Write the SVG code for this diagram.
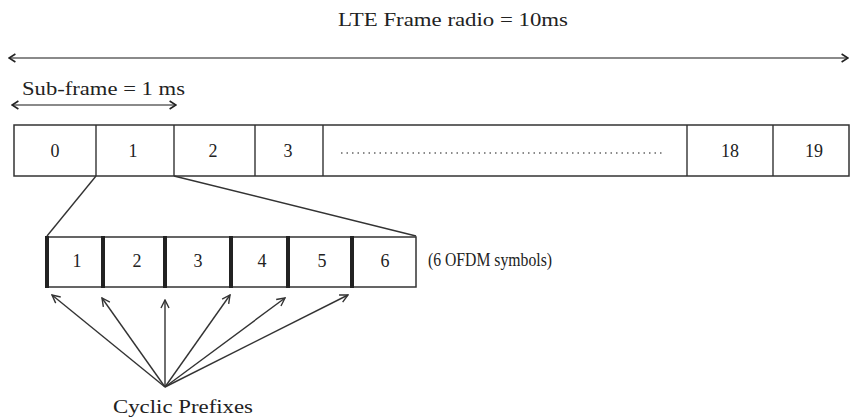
<svg xmlns="http://www.w3.org/2000/svg" width="851" height="419" viewBox="0 0 851 419">
  <style>
    text { font-family: "Liberation Serif", "Times New Roman", serif; fill: #222; font-size: 18px; }
    .num { text-anchor: middle; }
    .ln { stroke: #333; stroke-width: 1.4; fill: none; }
    .span { stroke: #8a8a8a; stroke-width: 2; fill: none; }
    .box { stroke: #333; stroke-width: 1.5; fill: #fff; }
    .cp { fill: #222; }
  </style>
  <defs>
    <marker id="open" viewBox="0 0 10 10" refX="9" refY="5" markerWidth="10" markerHeight="10" markerUnits="userSpaceOnUse" orient="auto-start-reverse">
      <path d="M1,1 L9,5 L1,9" fill="none" stroke="#333" stroke-width="1.4"/>
    </marker>
    <marker id="chev" viewBox="0 0 10 12" refX="9" refY="6" markerWidth="8" markerHeight="12" markerUnits="userSpaceOnUse" orient="auto-start-reverse">
      <path d="M1,1 L9,6 L1,11" fill="none" stroke="#222" stroke-width="2"/>
    </marker>
  </defs>

  <!-- frame duration -->
  <g id="frame-span">
    <text x="338" y="26" textLength="230" lengthAdjust="spacingAndGlyphs">LTE Frame radio = 10ms</text>
    <line class="span" x1="9" y1="58" x2="848" y2="58" marker-start="url(#chev)" marker-end="url(#chev)"/>
  </g>

  <!-- sub-frame duration -->
  <g id="subframe-span">
    <text x="22" y="95" textLength="163" lengthAdjust="spacingAndGlyphs">Sub-frame = 1 ms</text>
    <line class="span" x1="12" y1="105" x2="176" y2="105" marker-start="url(#chev)" marker-end="url(#chev)"/>
  </g>

  <!-- radio frame of 20 slots -->
  <g id="frame">
    <rect class="box" x="14" y="125" width="835" height="51"/>
    <line class="ln" x1="96" y1="125" x2="96" y2="176"/>
    <line class="ln" x1="174" y1="125" x2="174" y2="176"/>
    <line class="ln" x1="255" y1="125" x2="255" y2="176"/>
    <line class="ln" x1="323" y1="125" x2="323" y2="176"/>
    <line class="ln" x1="687" y1="125" x2="687" y2="176"/>
    <line class="ln" x1="773" y1="125" x2="773" y2="176"/>
    <text class="num" x="55" y="157">0</text>
    <text class="num" x="133" y="157">1</text>
    <text class="num" x="213" y="157">2</text>
    <text class="num" x="288" y="157">3</text>
    <line x1="341" y1="153" x2="662" y2="153" stroke="#666" stroke-width="1.3" stroke-dasharray="1.5 4"/>
    <text class="num" x="730" y="157">18</text>
    <text class="num" x="814" y="157">19</text>
  </g>

  <!-- OFDM symbols of one slot -->
  <g id="symbols">
    <rect class="box" x="47" y="237" width="369" height="50"/>
    <rect class="cp" x="45" y="236" width="4" height="52"/>
    <rect class="cp" x="101" y="236" width="4" height="52"/>
    <rect class="cp" x="163" y="236" width="4" height="52"/>
    <rect class="cp" x="229" y="236" width="4" height="52"/>
    <rect class="cp" x="286" y="236" width="4" height="52"/>
    <rect class="cp" x="350" y="236" width="4" height="52"/>
    <text class="num" x="77" y="267">1</text>
    <text class="num" x="137" y="267">2</text>
    <text class="num" x="198" y="267">3</text>
    <text class="num" x="262" y="267">4</text>
    <text class="num" x="322" y="267">5</text>
    <text class="num" x="385" y="267">6</text>
  </g>

  <g id="symbols-label">
    <text x="428" y="266" textLength="124" lengthAdjust="spacingAndGlyphs">(6 OFDM symbols)</text>
  </g>

  <g id="cp-label">
    <text x="113" y="413" textLength="140" lengthAdjust="spacingAndGlyphs">Cyclic Prefixes</text>
  </g>

  <!-- connectors -->
  <g id="connectors">
    <line class="ln" x1="96" y1="176" x2="47" y2="236"/>
    <line class="ln" x1="174" y1="176" x2="416" y2="236"/>
    <line class="ln" x1="165" y1="387" x2="52" y2="295" marker-end="url(#open)"/>
    <line class="ln" x1="165" y1="387" x2="102" y2="298" marker-end="url(#open)"/>
    <line class="ln" x1="165" y1="387" x2="165" y2="300" marker-end="url(#open)"/>
    <line class="ln" x1="165" y1="387" x2="230" y2="295" marker-end="url(#open)"/>
    <line class="ln" x1="165" y1="387" x2="285" y2="298" marker-end="url(#open)"/>
    <line class="ln" x1="165" y1="387" x2="348" y2="295" marker-end="url(#open)"/>
  </g>
</svg>
